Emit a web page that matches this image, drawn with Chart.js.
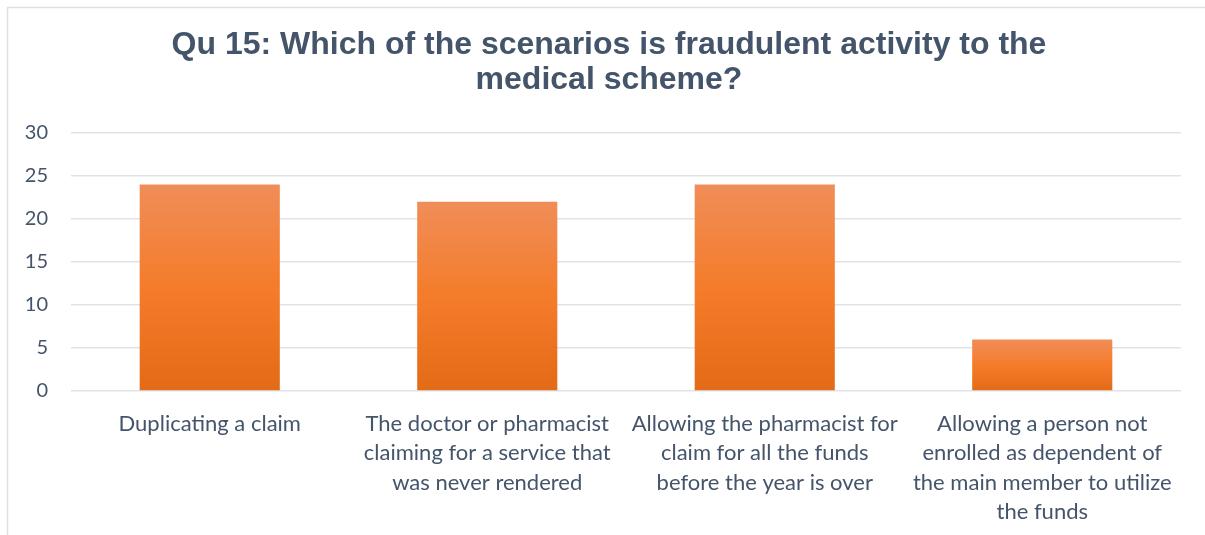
<!DOCTYPE html>
<html lang="en">

<head>
    <meta charset="UTF-8">
    <title>Qu 15</title>
    <script src="https://cdn.jsdelivr.net/npm/chart.js"></script>
    <style>
        body {
            margin: 0;
            background: #ffffff;
        }

        #grafico {
            display: block;
        }
    </style>
</head>

<body>
    <canvas id="grafico" width="1205" height="535"></canvas>

    <script>
        // Respostas da pergunta 15
        const titulo = ['Qu 15: Which of the scenarios is fraudulent activity to the', 'medical scheme?'];
        const categorias = [
            ['Duplicating a claim'],
            ['The doctor or pharmacist', 'claiming for a service that', 'was never rendered'],
            ['Allowing the pharmacist for', 'claim for all the funds', 'before the year is over'],
            ['Allowing a person not', 'enrolled as dependent of', 'the main member to utilize', 'the funds']
        ];
        const respostas = [24, 22, 24, 6];
        const ticksY = [0, 5, 10, 15, 20, 25, 30];

        const corTexto = '#44546A';
        const corGrade = '#dfe3e9';

        // degradê laranja de cima para baixo em cada barra
        function degrade(ctx) {
            const chart = ctx.chart;
            if (!chart.chartArea) return '#F47C2A';
            const y = chart.scales.y;
            const topo = y.getPixelForValue(ctx.raw);
            const base = y.getPixelForValue(0);
            const g = chart.ctx.createLinearGradient(0, topo, 0, base);
            g.addColorStop(0, '#F08D58');
            g.addColorStop(0.5, '#F47C2A');
            g.addColorStop(1, '#E36B18');
            return g;
        }

        // moldura (bordas de cima e da esquerda) e título centralizado na moldura
        const moldura = {
            id: 'moldura',
            beforeDraw(chart) {
                const c = chart.ctx;
                c.save();
                c.strokeStyle = '#dde1e7';
                c.lineWidth = 1.5;
                c.beginPath();
                c.moveTo(7.5, chart.height);
                c.lineTo(7.5, 7.5);
                c.lineTo(chart.width, 7.5);
                c.stroke();

                c.fillStyle = corTexto;
                c.font = 'bold 32px "Liberation Sans", Arial, sans-serif';
                c.textAlign = 'center';
                c.textBaseline = 'middle';
                titulo.forEach((linha, i) => c.fillText(linha, 609, 45 + i * 35));
                c.restore();
            }
        };

        const config = {
            type: 'bar',
            data: {
                labels: categorias,
                datasets: [{
                    label: 'Qu 15',
                    data: respostas,
                    backgroundColor: degrade,
                    barPercentage: 0.505,
                    categoryPercentage: 1
                }]
            },
            options: {
                responsive: false,
                animation: false,
                layout: {
                    padding: { top: 133, left: 0, right: 24, bottom: 0 }
                },
                plugins: {
                    legend: { display: false },
                    tooltip: { enabled: false },
                    title: { display: false }
                },
                scales: {
                    x: {
                        grid: { display: false },
                        border: { display: false },
                        ticks: {
                            color: corTexto,
                            font: { family: 'Lato, "Open Sans", sans-serif', size: 22, lineHeight: 1.34 },
                            maxRotation: 0,
                            autoSkip: false,
                            padding: 10
                        },
                        afterFit(s) { s.height = 144; }
                    },
                    y: {
                        min: 0,
                        max: 30,
                        afterBuildTicks(s) { s.ticks = ticksY.map(v => ({ value: v })); },
                        grid: { color: corGrade, lineWidth: 1.5, drawTicks: false },
                        border: { display: false },
                        ticks: {
                            color: corTexto,
                            font: { family: 'Lato, "Open Sans", sans-serif', size: 20 },
                            padding: 23
                        },
                        afterFit(s) { s.width = 71; }
                    }
                }
            },
            plugins: [moldura]
        };

        const myChart = new Chart(document.getElementById('grafico'), config);
    </script>
</body>

</html>
